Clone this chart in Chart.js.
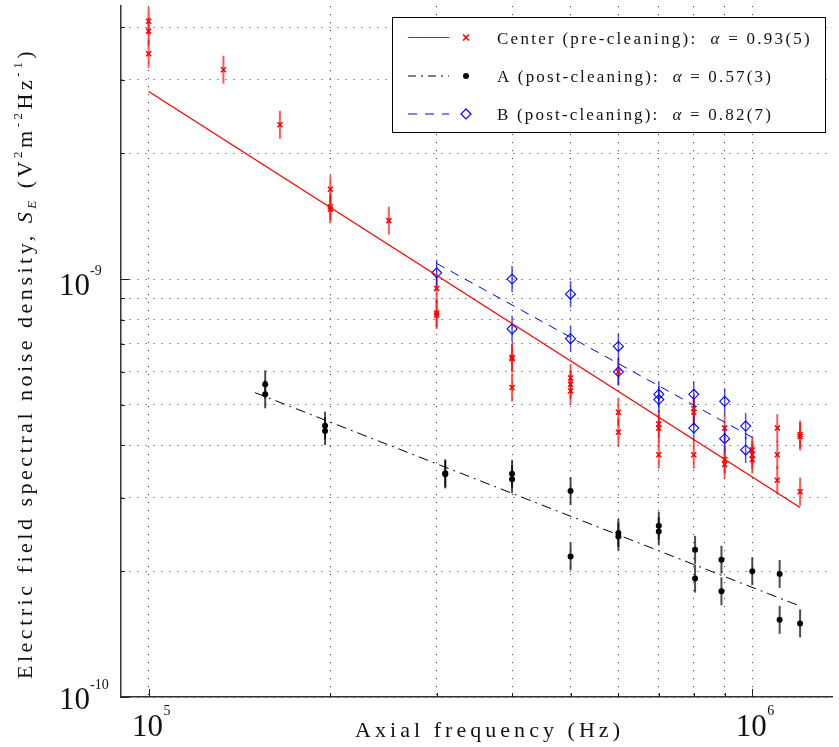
<!DOCTYPE html>
<html>
<head>
<meta charset="utf-8">
<script src="https://cdn.jsdelivr.net/npm/chart.js@4.4.1/dist/chart.umd.min.js"></script>
<style>
  body { margin: 0; background: #fff; }
</style>
</head>
<body>
<canvas id="noise" width="839" height="747"></canvas>
<script>
// --- data (frequency in Hz, S_E in V^2 m^-2 Hz^-1) ---

// Center trap position, before cleaning
const redFreq = [1e5, 1e5, 1e5, 1.33e5, 1.65e5, 2e5, 2e5, 2e5, 2.5e5,
  3e5, 3e5, 3e5, 4e5, 4e5, 4e5, 5e5, 5e5, 5e5, 6e5, 6e5, 6e5,
  7e5, 7e5, 7e5, 8e5, 8e5, 8e5, 9e5, 9e5, 9e5, 1e6, 1e6, 1e6,
  1.1e6, 1.1e6, 1.1e6, 1.2e6, 1.2e6, 1.2e6];
const redPSD = [4.14e-9, 3.92e-9, 3.46e-9, 3.17e-9, 2.34e-9, 1.64e-9, 1.49e-9, 1.47e-9, 1.38e-9,
  9.5e-10, 8.3e-10, 8.2e-10, 6.5e-10, 6.45e-10, 5.5e-10, 5.8e-10, 5.6e-10, 5.4e-10, 6.0e-10, 4.8e-10, 4.3e-10,
  4.5e-10, 4.4e-10, 3.8e-10, 4.9e-10, 4.8e-10, 3.8e-10, 4.4e-10, 3.7e-10, 3.6e-10, 3.9e-10, 3.8e-10, 3.7e-10,
  4.4e-10, 3.8e-10, 3.3e-10, 4.25e-10, 4.2e-10, 3.1e-10];

// Position A, after cleaning
const blackFreq = [1.56e5, 1.56e5, 1.96e5, 1.96e5, 3.1e5, 3.1e5, 4e5, 4e5, 5e5, 5e5,
  6e5, 6e5, 7e5, 7e5, 8.04e5, 8.04e5, 8.89e5, 8.89e5, 1e6, 1.11e6, 1.11e6, 1.2e6];
const blackPSD = [5.6e-10, 5.3e-10, 4.46e-10, 4.33e-10, 3.43e-10, 3.41e-10, 3.42e-10, 3.32e-10, 3.11e-10, 2.17e-10,
  2.47e-10, 2.42e-10, 2.57e-10, 2.49e-10, 2.25e-10, 1.92e-10, 2.13e-10, 1.79e-10, 2.0e-10, 1.97e-10, 1.53e-10, 1.5e-10];

// Position B, after cleaning
const blueFreq = [3e5, 4e5, 4e5, 5e5, 5e5, 6e5, 6e5, 7e5, 7e5, 8e5, 8e5, 9e5, 9e5, 9.75e5, 9.75e5];
const bluePSD = [1.035e-9, 1.0e-9, 7.6e-10, 9.2e-10, 7.2e-10, 6.9e-10, 6.0e-10, 5.3e-10, 5.15e-10,
  5.3e-10, 4.4e-10, 5.1e-10, 4.15e-10, 4.45e-10, 3.9e-10];

// relative error on each point (all bars look the same size on the log axis)
const redErr = 0.08;
const blackErr = 0.08;
const blueErr = 0.075;

// power-law fits, drawn between two end points
const redFitFreq = [1e5, 1.2e6];
const redFitPSD = [2.81e-9, 2.84e-10];
const blackFitFreq = [1.5e5, 1.2e6];
const blackFitPSD = [5.35e-10, 1.65e-10];
const blueFitFreq = [3e5, 1e6];
const blueFitPSD = [1.09e-9, 4.18e-10];

// legend
const legendNames = ["Center (pre-cleaning):", "A (post-cleaning):", "B (post-cleaning):"];
const legendAlpha = ["0.93(5)", "0.57(3)", "0.82(7)"];

// axes
const xGrid = [1e5, 2e5, 3e5, 4e5, 5e5, 6e5, 7e5, 8e5, 9e5, 1e6];
const yGrid = [1e-10, 2e-10, 3e-10, 4e-10, 5e-10, 6e-10, 7e-10, 8e-10, 9e-10, 1e-9, 2e-9, 3e-9, 4e-9];
const xLabelVals = [1e5, 1e6];
const xLabelExp = ["5", "6"];
const yLabelVals = [1e-9, 1e-10];
const yLabelExp = ["-9", "-10"];

const SERIF = "'Liberation Serif', 'DejaVu Serif', serif";

function pts(xs, ys) {
  return xs.map((x, i) => ({ x: x, y: ys[i] }));
}

// draws a list of text runs, spreading letters so the whole thing is `width` wide
function drawRuns(ctx, runs, x, y, width) {
  let w0 = 0, n = 0;
  ctx.letterSpacing = "0px";
  runs.forEach(r => {
    ctx.font = r.f + " " + SERIF;
    w0 += ctx.measureText(r.t).width;
    n += r.t.length;
  });
  const ls = width ? (width - w0) / n : 0;
  ctx.letterSpacing = ls + "px";
  runs.forEach(r => {
    ctx.font = r.f + " " + SERIF;
    ctx.fillText(r.t, x, y + (r.dy || 0));
    x += ctx.measureText(r.t).width;
  });
  ctx.letterSpacing = "0px";
}

const errorBars = {
  id: "errorBars",
  beforeDatasetsDraw(chart) {
    const ctx = chart.ctx;
    const xs = chart.scales.x, ys = chart.scales.y;
    const sets = [
      [redFreq, redPSD, redErr, "rgba(255,0,0,0.65)", 2],
      [blackFreq, blackPSD, blackErr, "rgba(0,0,0,0.7)", 2],
      [blueFreq, bluePSD, blueErr, "rgba(0,0,255,0.7)", 1.5]
    ];
    ctx.save();
    sets.forEach(s => {
      ctx.strokeStyle = s[3];
      ctx.lineWidth = s[4];
      s[0].forEach((f, i) => {
        const px = xs.getPixelForValue(f);
        ctx.beginPath();
        ctx.moveTo(px, ys.getPixelForValue(s[1][i] * (1 + s[2])));
        ctx.lineTo(px, ys.getPixelForValue(s[1][i] / (1 + s[2])));
        ctx.stroke();
      });
    });
    ctx.restore();
  }
};

const decorations = {
  id: "decorations",
  afterDraw(chart) {
    const ctx = chart.ctx;
    const xs = chart.scales.x, ys = chart.scales.y;
    const area = chart.chartArea;
    ctx.save();

    // inward tick marks
    ctx.strokeStyle = "#222";
    ctx.lineWidth = 1;
    yGrid.forEach(v => {
      const py = Math.round(ys.getPixelForValue(v)) + 0.5;
      const len = yLabelVals.includes(v) ? 8 : 4;
      ctx.beginPath();
      ctx.moveTo(area.left, py);
      ctx.lineTo(area.left + len, py);
      ctx.stroke();
    });
    xGrid.forEach(v => {
      const px = Math.round(xs.getPixelForValue(v)) + 0.5;
      const len = xLabelVals.includes(v) ? 8 : 4;
      ctx.beginPath();
      ctx.moveTo(px, area.bottom);
      ctx.lineTo(px, area.bottom - len);
      ctx.stroke();
    });

    // tick labels
    ctx.fillStyle = "#111";
    ctx.textBaseline = "alphabetic";
    xLabelVals.forEach((v, i) => {
      const px = xs.getPixelForValue(v);
      ctx.font = "31px " + SERIF;
      ctx.textAlign = "center";
      ctx.fillText("10", px - 1, 736);
      ctx.textAlign = "left";
      ctx.font = "14px " + SERIF;
      ctx.fillText(xLabelExp[i], px + 15, 715);
    });
    yLabelVals.forEach((v, i) => {
      const py = Math.min(ys.getPixelForValue(v) + 16, 709);
      ctx.font = "31px " + SERIF;
      ctx.textAlign = "right";
      ctx.fillText("10", 90, py);
      ctx.textAlign = "left";
      ctx.font = "14px " + SERIF;
      ctx.fillText(yLabelExp[i], 90, py - 20);
    });

    // axis titles
    ctx.textAlign = "left";
    drawRuns(ctx, [{ t: "Axial frequency (Hz)", f: "22px" }], 355, 737, 269);

    ctx.save();
    ctx.translate(32, 679);
    ctx.rotate(-Math.PI / 2);
    drawRuns(ctx, [
      { t: "Electric field spectral noise density, ", f: "22px" },
      { t: "S", f: "italic 22px" },
      { t: "E", f: "italic 13px", dy: 4 },
      { t: " (V", f: "22px" },
      { t: "2", f: "13px", dy: -10 },
      { t: "m", f: "22px" },
      { t: "-2", f: "13px", dy: -10 },
      { t: "Hz", f: "22px" },
      { t: "-1", f: "13px", dy: -10 },
      { t: ")", f: "22px" }
    ], 0, 0, 631);
    ctx.restore();

    // legend box
    const box = { l: 392.5, t: 17.5, r: 825.5, b: 132.5 };
    ctx.fillStyle = "#fff";
    ctx.fillRect(box.l, box.t, box.r - box.l, box.b - box.t);
    ctx.strokeStyle = "#000";
    ctx.lineWidth = 1;
    ctx.strokeRect(box.l, box.t, box.r - box.l, box.b - box.t);

    const rowY = [37.5, 76, 114];
    const lineCol = ["#ff0000", "#000000", "#0000ff"];
    const dashes = [[], [8, 5, 2, 5], [9, 8]];
    const widths = [315, 276, 276];
    rowY.forEach((y, i) => {
      ctx.strokeStyle = lineCol[i];
      ctx.lineWidth = 1;
      ctx.setLineDash(dashes[i]);
      ctx.beginPath();
      ctx.moveTo(408, y);
      ctx.lineTo(449, y);
      ctx.stroke();
      ctx.setLineDash([]);

      const mx = 466;
      if (i === 0) {
        ctx.lineWidth = 1.5;
        ctx.beginPath();
        ctx.moveTo(mx - 3, y - 3); ctx.lineTo(mx + 3, y + 3);
        ctx.moveTo(mx - 3, y + 3); ctx.lineTo(mx + 3, y - 3);
        ctx.stroke();
      } else if (i === 1) {
        ctx.fillStyle = "#000";
        ctx.beginPath();
        ctx.arc(mx, y, 3, 0, Math.PI * 2);
        ctx.fill();
      } else {
        ctx.lineWidth = 1.2;
        ctx.beginPath();
        ctx.moveTo(mx, y - 5); ctx.lineTo(mx + 5, y);
        ctx.lineTo(mx, y + 5); ctx.lineTo(mx - 5, y);
        ctx.closePath();
        ctx.stroke();
      }

      ctx.fillStyle = "#111";
      drawRuns(ctx, [
        { t: legendNames[i] + "  ", f: "17px" },
        { t: "\u03b1", f: "italic 17px" },
        { t: " = " + legendAlpha[i], f: "17px" }
      ], 497, y + 6, widths[i]);
    });

    ctx.restore();
  }
};

const ctx = document.getElementById("noise").getContext("2d");
const chart = new Chart(ctx, {
  type: "scatter",
  data: {
    datasets: [
      {
        label: "Center fit", type: "line", data: pts(redFitFreq, redFitPSD),
        borderColor: "#ff0000", borderWidth: 1.3, pointRadius: 0, fill: false
      },
      {
        label: "A fit", type: "line", data: pts(blackFitFreq, blackFitPSD),
        borderColor: "#000000", borderWidth: 1, borderDash: [10, 5, 2, 5], pointRadius: 0, fill: false
      },
      {
        label: "B fit", type: "line", data: pts(blueFitFreq, blueFitPSD),
        borderColor: "#0000ff", borderWidth: 1, borderDash: [9, 7], pointRadius: 0, fill: false
      },
      {
        label: "Center", data: pts(redFreq, redPSD),
        pointStyle: "crossRot", pointRadius: 3.5, borderColor: "#ff0000", borderWidth: 1.5
      },
      {
        label: "A", data: pts(blackFreq, blackPSD),
        pointStyle: "circle", pointRadius: 3, backgroundColor: "#000", borderColor: "#000", borderWidth: 0
      },
      {
        label: "B", data: pts(blueFreq, bluePSD),
        pointStyle: "rectRot", pointRadius: 5, backgroundColor: "rgba(0,0,0,0)", borderColor: "#0000ff", borderWidth: 1.1
      }
    ]
  },
  options: {
    responsive: false,
    animation: false,
    events: [],
    devicePixelRatio: 1,
    layout: { padding: { left: 121, top: 6, right: 5, bottom: 50 } },
    plugins: { legend: { display: false }, tooltip: { enabled: false } },
    scales: {
      x: {
        type: "logarithmic",
        min: 9e4,
        max: 1.36e6,
        afterBuildTicks: s => { s.ticks = xGrid.map(v => ({ value: v })); },
        ticks: { display: false },
        grid: { color: "#333", lineWidth: 1, drawTicks: false },
        border: { display: true, color: "#333", width: 1.5, dash: [1, 7] }
      },
      y: {
        type: "logarithmic",
        min: 1e-10,
        max: 4.5e-9,
        afterBuildTicks: s => { s.ticks = yGrid.map(v => ({ value: v })); },
        ticks: { display: false },
        grid: { color: "#333", lineWidth: 1, drawTicks: false },
        border: { display: true, color: "#333", width: 1.5, dash: [1, 7] }
      }
    }
  },
  plugins: [errorBars, decorations]
});
</script>
</body>
</html>
